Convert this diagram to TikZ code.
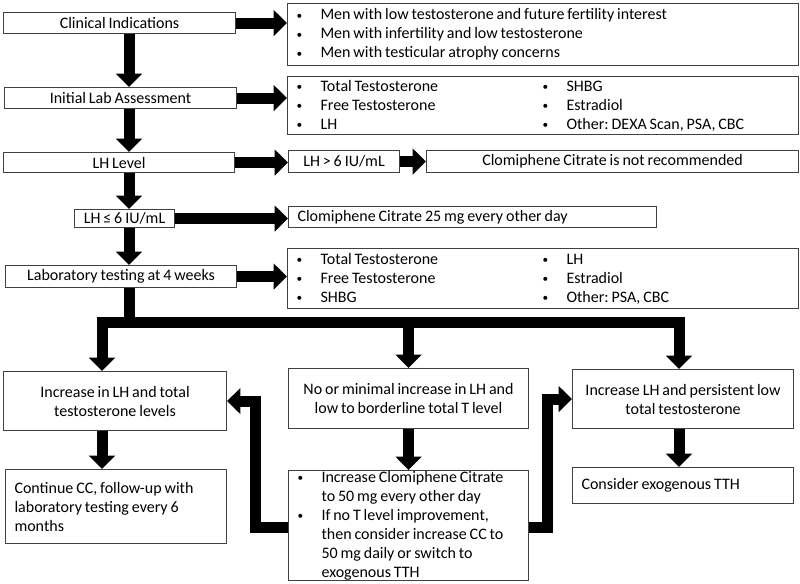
\documentclass[tikz,border=0pt]{standalone}
\usepackage{fontspec}
\setmainfont{Carlito}[WordSpace=0.8]
\usetikzlibrary{arrows.meta}

\newcommand\itm[1]{\makebox[18pt][l]{\raisebox{0.6pt}{\fontsize{8.5}{8.5}\selectfont\textbullet}}#1}

\begin{document}
\frenchspacing
\begin{tikzpicture}[x=0.75pt,y=-0.75pt,
  box/.style={draw=black!75, line width=0.8pt, anchor=north west,
    inner xsep=6.75pt, inner ysep=0pt, font=\fontsize{12}{14.25}\selectfont},
  list/.style={box, align=flush left},
  flow/.style={line width=8.25pt, line join=miter,
    -{Triangle[width=19pt,length=10pt]}}]
  \useasboundingbox (0,0) rectangle (800,583);
  \coordinate (spine) at (129,0);
  \coordinate (lcol) at (102,0);
  \coordinate (rcol) at (679,0);
  \coordinate (bar) at (0,322.5);
  \coordinate (back) at (0,527);
  \coordinate (lx) at (255,0);
  \coordinate (rx) at (547,0);

  % left column
  \node[box, minimum width=174pt, minimum height=15.75pt] (ci) at (3,12) {Clinical Indications};
  \node[box, minimum width=174pt, minimum height=15.75pt] (ila) at (4,87) {Initial Lab Assessment};
  \node[box, minimum width=173.25pt, minimum height=15pt] (lhl) at (3,152) {LH Level};
  \node[box, minimum width=75pt, minimum height=13.5pt, inner xsep=0pt] (low) at (74,209) {LH ≤ 6 IU/mL};
  \node[box, minimum width=173.25pt, minimum height=16.5pt] (lab4) at (5,265) {Laboratory testing at 4 weeks};

  % right column
  \node[list, text width=369.75pt, minimum height=46.5pt] (ind) at (287,3)
    {\itm{Men with low testosterone and future fertility interest}\\
     \itm{Men with infertility and low testosterone}\\
     \itm{Men with testicular atrophy concerns}};
  \node[list, text width=369.75pt, minimum height=43.5pt] (labs) at (287,76)
    {\makebox[184.5pt][l]{\itm{Total Testosterone}}\itm{SHBG}\\
     \makebox[184.5pt][l]{\itm{Free Testosterone}}\itm{Estradiol}\\
     \makebox[184.5pt][l]{\itm{LH}}\itm{Other: DEXA Scan, PSA, CBC}};
  \node[box, minimum width=83.25pt, minimum height=16.5pt] (high) at (288,150) {LH > 6 IU/mL};
  \node[box, minimum width=279pt, minimum height=16.5pt] (notrec) at (426,150) {Clomiphene Citrate is not recommended};
  \node[list, text width=262.5pt, minimum height=15.75pt] (cc25) at (288,206) {Clomiphene Citrate 25 mg every other day};
  \node[list, text width=369.75pt, minimum height=45pt] (labs2) at (287,248)
    {\makebox[184.5pt][l]{\itm{Total Testosterone}}\itm{LH}\\
     \makebox[184.5pt][l]{\itm{Free Testosterone}}\itm{Estradiol}\\
     \makebox[184.5pt][l]{\itm{SHBG}}\itm{Other: PSA, CBC}};

  % outcomes
  \node[box, minimum width=167.25pt, minimum height=44.25pt, align=center] (inc) at (3,371)
    {Increase in LH and total\\testosterone levels};
  \node[box, minimum width=180pt, minimum height=45pt, align=center] (mini) at (288,368)
    {No or minimal increase in LH and\\low to borderline total T level};
  \node[box, minimum width=165.75pt, minimum height=44.25pt, align=center] (pers) at (572,369)
    {Increase LH and persistent low\\total testosterone};
  \node[list, text width=152.25pt, minimum height=55.5pt] (cont) at (5,469)
    {Continue CC, follow-up with\\laboratory testing every 6\\months};
  \node[list, text width=166.5pt, minimum height=82.5pt] (incr) at (288,470)
    {\itm{Increase Clomiphene Citrate}\\
     \hspace*{18pt}to 50 mg every other day\\
     \itm{If no T level improvement,}\\
     \hspace*{18pt}then consider increase CC to\\
     \hspace*{18pt}50 mg daily or switch to\\
     \hspace*{18pt}exogenous TTH};
  \node[list, text width=152.25pt, minimum height=27pt] (exo) at (572,467) {Consider exogenous TTH};

  % arrows
  \draw[flow] (ci.east) -- (ci.east -| ind.west);
  \draw[flow] (ila.east) -- (ila.east -| labs.west);
  \draw[flow] (lhl.east) -- (lhl.east -| high.west);
  \draw[flow] (high.east) -- (notrec.west);
  \draw[flow] (low.east) -- (low.east -| cc25.west);
  \draw[flow] (lab4.east) -- (lab4.east -| labs2.west);
  \draw[flow] (spine |- ci.south) -- (spine |- ila.north);
  \draw[flow] (spine |- ila.south) -- (spine |- lhl.north);
  \draw[flow] (spine |- lhl.south) -- (spine |- low.north);
  \draw[flow] (spine |- low.south) -- (spine |- lab4.north);
  \draw[flow] (spine |- lab4.south) |- (lcol |- bar) -- (lcol |- inc.north);
  \draw[flow] (spine |- bar) -| (rcol |- pers.north);
  \draw[flow] (mini.north |- bar) -- (mini.north);
  \draw[flow] (lcol |- inc.south) -- (lcol |- cont.north);
  \draw[flow] (mini.south) -- (incr.north);
  \draw[flow] (rcol |- pers.south) -- (rcol |- exo.north);
  \draw[flow] (incr.west |- back) -| (lx |- inc.east) -- (inc.east);
  \draw[flow] (incr.east |- back) -| (rx |- pers.west) -- (pers.west);
\end{tikzpicture}
\end{document}
